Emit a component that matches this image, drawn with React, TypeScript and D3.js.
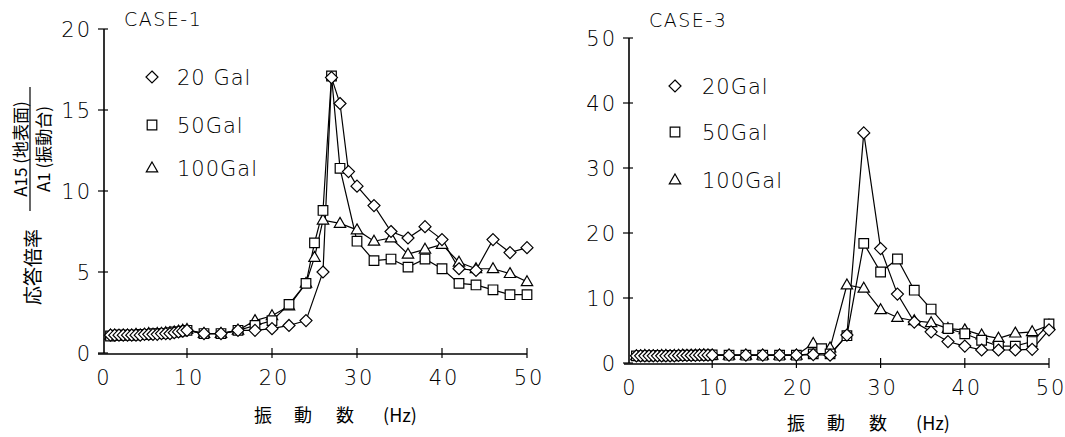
import { useEffect, useRef } from 'react';
import * as d3 from 'd3';

// low-frequency sweep, 1 - 10 Hz
const lowFreq = [1, 1.5, 2, 2.5, 3, 3.5, 4, 4.5, 5, 5.5, 6, 6.5, 7, 7.5, 8, 8.5, 9, 9.5, 10];

// CASE-1
const c1Low20 = [1.1, 1.1, 1.1, 1.1, 1.1, 1.1, 1.1, 1.1, 1.15, 1.15, 1.15, 1.15, 1.2, 1.2, 1.2, 1.25, 1.3, 1.35, 1.4];
const c1Low50 = [1.05, 1.1, 1.1, 1.1, 1.1, 1.1, 1.1, 1.15, 1.15, 1.15, 1.2, 1.2, 1.2, 1.2, 1.25, 1.3, 1.3, 1.35, 1.4];
const c1Low100 = [1.1, 1.1, 1.05, 1.1, 1.1, 1.1, 1.15, 1.1, 1.15, 1.2, 1.15, 1.2, 1.2, 1.25, 1.25, 1.3, 1.35, 1.4, 1.45];

const c1Freq20 = [12, 14, 16, 18, 20, 22, 24, 26, 27, 28, 29, 30, 32, 34, 36, 38, 40, 42, 44, 46, 48, 50];
const c1Val20 = [1.2, 1.2, 1.4, 1.4, 1.5, 1.7, 2.0, 5.0, 17.0, 15.4, 11.2, 10.3, 9.1, 7.5, 7.1, 7.8, 7.0, 5.2, 5.1, 7.0, 6.2, 6.5];
const c1Freq50 = [12, 14, 16, 18, 20, 22, 24, 25, 26, 27, 28, 30, 32, 34, 36, 38, 40, 42, 44, 46, 48, 50];
const c1Val50 = [1.2, 1.2, 1.4, 1.7, 2.0, 3.0, 4.3, 6.8, 8.8, 17.1, 11.4, 6.9, 5.7, 5.8, 5.3, 5.8, 5.2, 4.3, 4.2, 3.9, 3.6, 3.6];
const c1Freq100 = [12, 14, 16, 18, 20, 22, 24, 25, 26, 28, 30, 32, 34, 36, 38, 40, 42, 44, 46, 48, 50];
const c1Val100 = [1.2, 1.2, 1.4, 2.0, 2.3, 2.9, 4.3, 5.9, 8.2, 8.0, 7.6, 6.9, 7.1, 6.1, 6.4, 6.7, 5.6, 5.2, 5.2, 4.9, 4.4];

// CASE-3
const c3Low20 = [1.1, 1.1, 1.1, 1.1, 1.1, 1.1, 1.1, 1.1, 1.1, 1.1, 1.15, 1.15, 1.15, 1.15, 1.15, 1.2, 1.2, 1.2, 1.2];
const c3Low50 = [1.1, 1.1, 1.1, 1.1, 1.1, 1.15, 1.1, 1.1, 1.15, 1.1, 1.15, 1.15, 1.2, 1.15, 1.2, 1.2, 1.2, 1.2, 1.25];
const c3Low100 = [1.1, 1.1, 1.15, 1.1, 1.1, 1.1, 1.15, 1.15, 1.1, 1.15, 1.15, 1.2, 1.15, 1.2, 1.2, 1.2, 1.25, 1.2, 1.2];

const c3Freq20 = [12, 14, 16, 18, 20, 22, 24, 26, 28, 30, 32, 34, 36, 38, 40, 42, 44, 46, 48, 50];
const c3Val20 = [1.2, 1.2, 1.2, 1.2, 1.2, 1.3, 1.2, 4.3, 35.4, 17.6, 10.6, 6.3, 4.8, 3.3, 2.6, 2.0, 2.0, 2.0, 2.1, 5.1];
const c3Freq50 = [12, 14, 16, 18, 20, 22, 23, 24, 26, 28, 30, 32, 34, 36, 38, 40, 42, 44, 46, 48, 50];
const c3Val50 = [1.2, 1.2, 1.2, 1.2, 1.2, 1.4, 2.2, 1.4, 4.2, 18.4, 14.0, 16.0, 11.2, 8.3, 5.3, 4.5, 3.5, 2.6, 2.6, 3.3, 6.0];
const c3Freq100 = [12, 14, 16, 18, 20, 22, 24, 26, 28, 30, 32, 34, 36, 38, 40, 42, 44, 46, 48, 50];
const c3Val100 = [1.2, 1.2, 1.2, 1.2, 1.2, 3.0, 2.3, 12.0, 11.5, 8.2, 7.0, 6.5, 6.2, 5.3, 5.1, 4.3, 3.8, 4.6, 4.8, 5.8];

const xTicks = [0, 10, 20, 30, 40, 50];
const c1YTicks = [0, 5, 10, 15, 20];
const c3YTicks = [0, 10, 20, 30, 40, 50];
const legendLabelsC1 = ['20 Gal', '50Gal', '100Gal'];
const legendLabelsC3 = ['20Gal', '50Gal', '100Gal'];
const markerKinds = ['diamond', 'square', 'triangle'];
const xTitleParts = ['振', '動', '数', '(Hz)'];

const FONT = '"DejaVu Sans", sans-serif';
const CJK = '"Noto Sans CJK JP", sans-serif';

function markerPath(kind, r) {
  if (kind === 'diamond') return `M0,${-r}L${r},0L0,${r}L${-r},0Z`;
  if (kind === 'square') { const s = r * 0.8; return `M${-s},${-s}H${s}V${s}H${-s}Z`; }
  return `M0,${-r}L${r * 0.95},${r * 0.65}L${-r * 0.95},${r * 0.65}Z`;
}

const zip = (fs, vs) => fs.map((f, i) => ({ f, v: vs[i] }));

function App() {
  const svgRef = useRef();

  useEffect(() => {
    const svg = d3.select(svgRef.current);
    svg.selectAll('*').remove();

    const panels = [
      {
        title: 'CASE-1', titleX: 124, titleY: 26,
        x: [102, 527], y: [353, 29], yMax: 20, yTicks: c1YTicks, axisX: 104,
        legend: { x: 152, text: 177, ys: [77, 125, 168], labels: legendLabelsC1 },
        xlabel: { x: 335, y: 422 },
        series: [
          [...zip(lowFreq, c1Low20), ...zip(c1Freq20, c1Val20)],
          [...zip(lowFreq, c1Low50), ...zip(c1Freq50, c1Val50)],
          [...zip(lowFreq, c1Low100), ...zip(c1Freq100, c1Val100)],
        ],
      },
      {
        title: 'CASE-3', titleX: 649, titleY: 27,
        x: [628, 1049], y: [363, 38], yMax: 50, yTicks: c3YTicks, axisX: 629,
        legend: { x: 675, text: 702, ys: [86, 132, 180], labels: legendLabelsC3 },
        xlabel: { x: 868, y: 430 },
        series: [
          [...zip(lowFreq, c3Low20), ...zip(c3Freq20, c3Val20)],
          [...zip(lowFreq, c3Low50), ...zip(c3Freq50, c3Val50)],
          [...zip(lowFreq, c3Low100), ...zip(c3Freq100, c3Val100)],
        ],
      },
    ];

    panels.forEach(p => {
      const x = d3.scaleLinear().domain([0, 50]).range(p.x);
      const y = d3.scaleLinear().domain([0, p.yMax]).range(p.y);
      const g = svg.append('g');

      // axes
      g.append('line').attr('x1', p.axisX).attr('x2', p.axisX).attr('y1', y(p.yMax)).attr('y2', y(0))
        .attr('stroke', '#000').attr('stroke-width', 1.6);
      g.append('line').attr('x1', x(0) - 4).attr('x2', x(50)).attr('y1', y(0) + 1).attr('y2', y(0) + 1)
        .attr('stroke', '#000').attr('stroke-width', 1.6);

      g.selectAll('.ytick').data(p.yTicks).enter().append('line')
        .attr('x1', p.axisX - 6).attr('x2', p.axisX + 4)
        .attr('y1', d => y(d)).attr('y2', d => y(d))
        .attr('stroke', '#000').attr('stroke-width', 1.2);
      g.selectAll('.ylab').data(p.yTicks).enter().append('text')
        .attr('x', p.axisX - 12).attr('y', d => y(d) + 8)
        .attr('text-anchor', 'end')
        .style('font-family', FONT).style('font-size', '21px').style('font-weight', 200)
        .style('letter-spacing', '2px')
        .text(d => d);

      g.selectAll('.xtick').data(xTicks.slice(1)).enter().append('line')
        .attr('x1', d => x(d)).attr('x2', d => x(d))
        .attr('y1', y(0) - 5).attr('y2', y(0) + 5)
        .attr('stroke', '#000').attr('stroke-width', 1.2);
      g.selectAll('.xlab').data(xTicks).enter().append('text')
        .attr('x', d => x(d) + 2).attr('y', y(0) + 32)
        .attr('text-anchor', 'middle')
        .style('font-family', FONT).style('font-size', '21px').style('font-weight', 200)
        .style('letter-spacing', '2px')
        .text(d => d);

      // series
      const line = d3.line().x(d => x(d.f)).y(d => y(d.v));
      [2, 1, 0].forEach(si => {
        g.append('path').datum(p.series[si])
          .attr('fill', 'none').attr('stroke', '#000').attr('stroke-width', 1.2)
          .attr('d', line);
      });
      [2, 1, 0].forEach(si => {
        g.selectAll(`.m${si}`).data(p.series[si]).enter().append('path')
          .attr('transform', d => `translate(${x(d.f)},${y(d.v)})`)
          .attr('d', markerPath(markerKinds[si], 6))
          .attr('fill', '#fff').attr('stroke', '#000').attr('stroke-width', 1.2);
      });

      // legend
      p.legend.ys.forEach((ly, i) => {
        g.append('path').attr('transform', `translate(${p.legend.x},${ly})`)
          .attr('d', markerPath(markerKinds[i], 6))
          .attr('fill', '#fff').attr('stroke', '#000').attr('stroke-width', 1.2);
        g.append('text').attr('x', p.legend.text).attr('y', ly + 8)
          .style('font-family', FONT).style('font-size', '21px').style('font-weight', 200)
          .style('letter-spacing', '1px')
          .text(p.legend.labels[i]);
      });

      g.append('text').attr('x', p.titleX).attr('y', p.titleY)
        .style('font-family', FONT).style('font-size', '19px').style('font-weight', 200)
        .style('letter-spacing', '1.5px')
        .text(p.title);

      // x title, spaced out
      const offs = [-72, -32, 10, 65];
      xTitleParts.forEach((t, i) => {
        g.append('text').attr('x', p.xlabel.x + offs[i]).attr('y', p.xlabel.y)
          .attr('text-anchor', 'middle')
          .style('font-family', CJK).style('font-size', '18px')
          .text(t);
      });
    });

    // y-axis title for CASE-1
    const yt = svg.append('g');
    yt.append('text').attr('transform', 'translate(31,267) rotate(-90)')
      .attr('text-anchor', 'middle').attr('dominant-baseline', 'central')
      .style('font-family', CJK).style('font-size', '19px')
      .text('応答倍率');
    yt.append('text').attr('transform', 'translate(19,149) rotate(-90)')
      .attr('text-anchor', 'middle').attr('dominant-baseline', 'central')
      .style('font-family', CJK).style('font-size', '17px')
      .text('A15 (地表面)');
    yt.append('line').attr('x1', 30).attr('x2', 30).attr('y1', 87).attr('y2', 211)
      .attr('stroke', '#000').attr('stroke-width', 1.2);
    yt.append('text').attr('transform', 'translate(42,149) rotate(-90)')
      .attr('text-anchor', 'middle').attr('dominant-baseline', 'central')
      .style('font-family', CJK).style('font-size', '17px')
      .text('A1 (振動台)');
  }, []);

  return (
    <svg ref={svgRef} width={1065} height={437}
      style={{ position: 'absolute', left: 0, top: 0, background: '#fff' }} />
  );
}

export default App;
